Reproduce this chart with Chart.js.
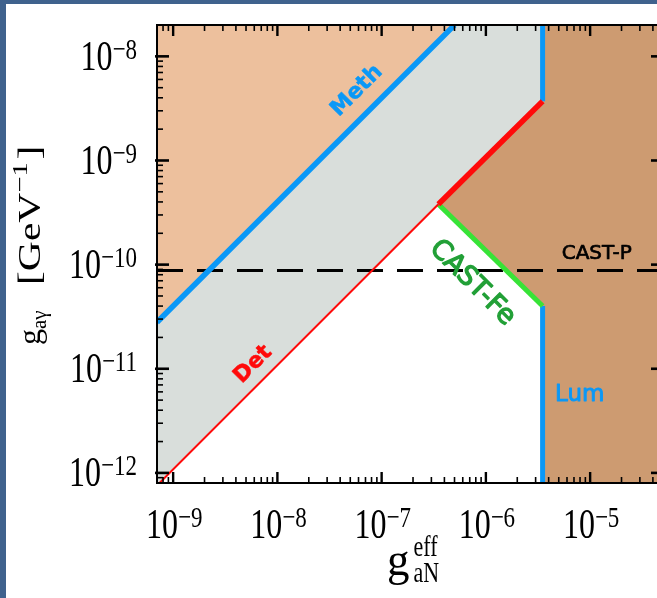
<!DOCTYPE html>
<html>
<head>
<meta charset="utf-8">
<script src="https://cdn.jsdelivr.net/npm/chart.js@4.4.1/dist/chart.umd.min.js"></script>
<style>
  html, body { margin: 0; padding: 0; width: 657px; height: 598px; overflow: hidden; background: #3f628d; }
  #panel { position: absolute; left: 6px; top: 4px; width: 700px; height: 640px; background: #ffffff; }
  #wrap { position: absolute; left: 0; top: 0; width: 664px; height: 598px; }
</style>
</head>
<body>
<div id="panel"></div>
<div id="wrap"><canvas id="chart" width="664" height="598"></canvas></div>
<script>
// Axis ranges (g_aN^eff on x, g_aγ on y)
const xRange = [7e-10, 5e-5];
const yRange = [8e-13, 2e-8];
const xTickExponents = [-9, -8, -7, -6, -5];
const yTickExponents = [-12, -11, -10, -9, -8];

// Boundary curves: x = g_aN^eff, y = g_aγ [GeV^-1]
const methX = [7e-10, 5e-7];
const methY = [2.8e-11, 2e-8];
const detThinX = [7.4e-10, 3.5e-7];
const detThinY = [8e-13, 3.8e-10];
const detThickX = [3.5e-7, 3.5e-6];
const detThickY = [3.8e-10, 3.7e-9];
const castFeX = [3.5e-7, 3.5e-6];
const castFeY = [3.8e-10, 4e-11];
const lumUpperX = [3.5e-6, 3.5e-6];
const lumUpperY = [3.7e-9, 2e-8];
const lumLowerX = [3.5e-6, 3.5e-6];
const lumLowerY = [8e-13, 4e-11];
const castPX = [7e-10, 5e-5];
const castPY = [8.8e-11, 8.8e-11];

const SERIF = '"Liberation Serif", "Times New Roman", serif';
const SANS = '"DejaVu Sans", "Verdana", sans-serif';

const BLUE = '#0a98f7';
const RED = '#ff0a0a';
const GREEN = '#37e337';
const PEACH = '#edc09d';
const GREY = '#d9dedb';
const TAN = '#cd9b71';

const pts = (xs, ys) => xs.map((v, i) => ({ x: v, y: ys[i] }));
const [xMin, xMax] = xRange;
const [yMin, yMax] = yRange;

// Filled regions, built from the boundary curves
const peachRegion = [
  { x: xMin, y: methY[0] }, { x: methX[1], y: methY[1] }, { x: xMin, y: yMax }, { x: xMin, y: methY[0] }
];
const greyRegion = [
  { x: xMin, y: yMin }, { x: detThinX[0], y: detThinY[0] }, { x: detThinX[1], y: detThinY[1] },
  { x: detThickX[1], y: detThickY[1] }, { x: lumUpperX[1], y: lumUpperY[1] },
  { x: methX[1], y: methY[1] }, { x: methX[0], y: methY[0] }, { x: xMin, y: yMin }
];
const tanRegion = [
  { x: lumUpperX[1], y: yMax }, { x: xMax, y: yMax }, { x: xMax, y: yMin }, { x: lumLowerX[0], y: yMin },
  { x: castFeX[1], y: castFeY[1] }, { x: castFeX[0], y: castFeY[0] },
  { x: detThickX[1], y: detThickY[1] }, { x: lumUpperX[1], y: yMax }
];

function region(data, color) {
  return { data, showLine: true, fill: 'shape', backgroundColor: color, borderWidth: 0,
           borderColor: 'rgba(0,0,0,0)', pointRadius: 0, order: 10 };
}
function curve(data, color, width, extra) {
  return Object.assign({ data, showLine: true, fill: false, borderColor: color, borderWidth: width,
           pointRadius: 0, order: 1, clip: 0, borderCapStyle: 'butt' }, extra || {});
}

// Text labels placed in data coordinates
const curveLabels = [
  { text: 'Meth', x: 5.8e-8, y: 4.65e-9, rot: -45, font: 'bold 22px ' + SANS, color: BLUE, thick: 0.5 },
  { text: 'Det', x: 5.85e-9, y: 1.1e-11, rot: -45, font: 'bold 22px ' + SANS, color: RED, thick: 0.5 },
  { text: 'CAST-Fe', x: 7.4e-7, y: 6.65e-11, rot: 45, font: '27px ' + SANS, color: '#22a037', thick: 1.3 },
  { text: 'CAST-P', x: 1.156e-5, y: 1.27e-10, rot: 0, font: '20px ' + SANS, color: '#000000', thick: 0.7 },
  { text: 'Lum', x: 7.95e-6, y: 5.6e-12, rot: 0, font: '23px ' + SANS, color: BLUE, thick: 0.9 }
];

function logTicks(min, max) {
  const out = [];
  for (let k = Math.floor(Math.log10(min)); k <= Math.ceil(Math.log10(max)); k++) {
    for (let m = 1; m <= 9; m++) {
      const v = m * Math.pow(10, k);
      if (v >= min * 0.9999 && v <= max * 1.0001) out.push({ v, major: m === 1 });
    }
  }
  return out;
}

// "10" with a superscript exponent, slightly stretched vertically like the serif axis font
function powerLabel(ctx, cx, cy, exp, align) {
  const SY = 1.32;
  ctx.save();
  ctx.fillStyle = '#000';
  ctx.textBaseline = 'alphabetic';
  ctx.textAlign = 'left';
  ctx.font = '32px ' + SERIF;
  const wBase = ctx.measureText('10').width;
  const sup = '\u2212' + String(Math.abs(exp));
  ctx.font = '23px ' + SERIF;
  const wSup = ctx.measureText(sup).width;
  const total = wBase + wSup;
  const x0 = align === 'right' ? cx - total : cx - total / 2;
  ctx.translate(x0, cy);
  ctx.scale(1, SY);
  ctx.font = '32px ' + SERIF;
  ctx.fillText('10', 0, 10.8);
  ctx.font = '23px ' + SERIF;
  ctx.fillText(sup, wBase, 2.5);
  ctx.restore();
}

const framePlugin = {
  id: 'frame',
  afterDatasetsDraw(chart) {
    const { ctx, chartArea: a, scales: { x, y } } = chart;
    ctx.save();
    ctx.strokeStyle = '#000';
    ctx.lineCap = 'butt';
    const seg = (x1, y1, x2, y2) => { ctx.beginPath(); ctx.moveTo(x1, y1); ctx.lineTo(x2, y2); ctx.stroke(); };

    for (const t of logTicks(xMin, xMax)) {
      const px = x.getPixelForValue(t.v);
      const L = t.major ? 11 : 6;
      ctx.lineWidth = t.major ? 2.4 : 1.6;
      seg(px, a.bottom, px, a.bottom - L);
      seg(px, a.top, px, a.top + L);
    }
    for (const t of logTicks(yMin, yMax)) {
      const py = y.getPixelForValue(t.v);
      const L = t.major ? 12 : 6;
      ctx.lineWidth = t.major ? 2.6 : 1.6;
      seg(a.left - (t.major ? 2 : 0), py, a.left + L, py);
      seg(a.right, py, a.right - L, py);
    }
    ctx.lineWidth = 2;
    ctx.strokeRect(a.left, a.top, a.right - a.left, a.bottom - a.top);

    // tick labels
    for (const e of xTickExponents) {
      powerLabel(ctx, x.getPixelForValue(Math.pow(10, e)) + 1, 524, e, 'center');
    }
    for (const e of yTickExponents) {
      powerLabel(ctx, 137, y.getPixelForValue(Math.pow(10, e)) - 1, e, 'right');
    }

    // curve labels
    for (const l of curveLabels) {
      ctx.save();
      ctx.translate(x.getPixelForValue(l.x), y.getPixelForValue(l.y));
      ctx.rotate(l.rot * Math.PI / 180);
      ctx.font = l.font;
      ctx.fillStyle = l.color;
      ctx.strokeStyle = l.color;
      ctx.lineWidth = l.thick;
      ctx.lineJoin = 'round';
      ctx.textAlign = 'center';
      ctx.textBaseline = 'middle';
      ctx.fillText(l.text, 0, 0);
      ctx.strokeText(l.text, 0, 0);
      ctx.restore();
    }

    // x axis title: g_aN^eff
    ctx.save();
    ctx.fillStyle = '#000';
    ctx.translate(387, 575);
    ctx.scale(1, 1.3);
    ctx.font = '36px ' + SERIF;
    ctx.save();
    ctx.scale(1.25, 1);
    ctx.fillText('g', 0, 0);
    ctx.restore();
    const gw = ctx.measureText('g').width * 1.25;
    ctx.font = '22px ' + SERIF;
    ctx.fillText('eff', gw + 4, -15);
    ctx.fillText('aN', gw + 4, 5);
    ctx.restore();

    // y axis title: g_aγ [GeV^-1]
    ctx.save();
    ctx.fillStyle = '#000';
    ctx.translate(40, 345);
    ctx.rotate(-Math.PI / 2);
    ctx.font = '32px ' + SERIF;
    ctx.fillText('g', 0, 0);
    const gW = ctx.measureText('g').width;
    ctx.font = '21px ' + SERIF;
    ctx.fillText('a\u03b3', gW, 6);
    ctx.translate(60, 0);
    ctx.scale(1.3, 1);
    let cx = 0;
    ctx.font = '32px ' + SERIF;
    ctx.fillText('[GeV', cx, 0);
    cx += ctx.measureText('[GeV').width;
    ctx.font = '22px ' + SERIF;
    ctx.fillText('\u22121', cx, -13);
    cx += ctx.measureText('\u22121').width + 2;
    ctx.font = '32px ' + SERIF;
    ctx.fillText(']', cx, 0);
    ctx.restore();

    ctx.restore();
  }
};

new Chart(document.getElementById('chart'), {
  type: 'scatter',
  data: {
    datasets: [
      region(peachRegion, PEACH),
      region(greyRegion, GREY),
      region(tanRegion, TAN),
      curve(pts(castPX, castPY), '#000000', 3, { borderDash: [26, 14], order: 2 }),
      curve(pts(detThinX, detThinY), RED, 2),
      curve(pts(methX, methY), BLUE, 5.5),
      curve(pts(detThickX, detThickY), RED, 5.5),
      curve(pts(castFeX, castFeY), GREEN, 5),
      curve(pts(lumUpperX, lumUpperY), BLUE, 5),
      curve(pts(lumLowerX, lumLowerY), BLUE, 5)
    ]
  },
  options: {
    responsive: false,
    animation: false,
    devicePixelRatio: 1,
    layout: { padding: { left: 157, top: 25, right: 1, bottom: 115 } },
    elements: { line: { tension: 0 } },
    plugins: { legend: { display: false }, tooltip: { enabled: false } },
    scales: {
      x: { type: 'logarithmic', min: xMin, max: xMax, display: false },
      y: { type: 'logarithmic', min: yMin, max: yMax, display: false }
    }
  },
  plugins: [framePlugin]
});
</script>
</body>
</html>
